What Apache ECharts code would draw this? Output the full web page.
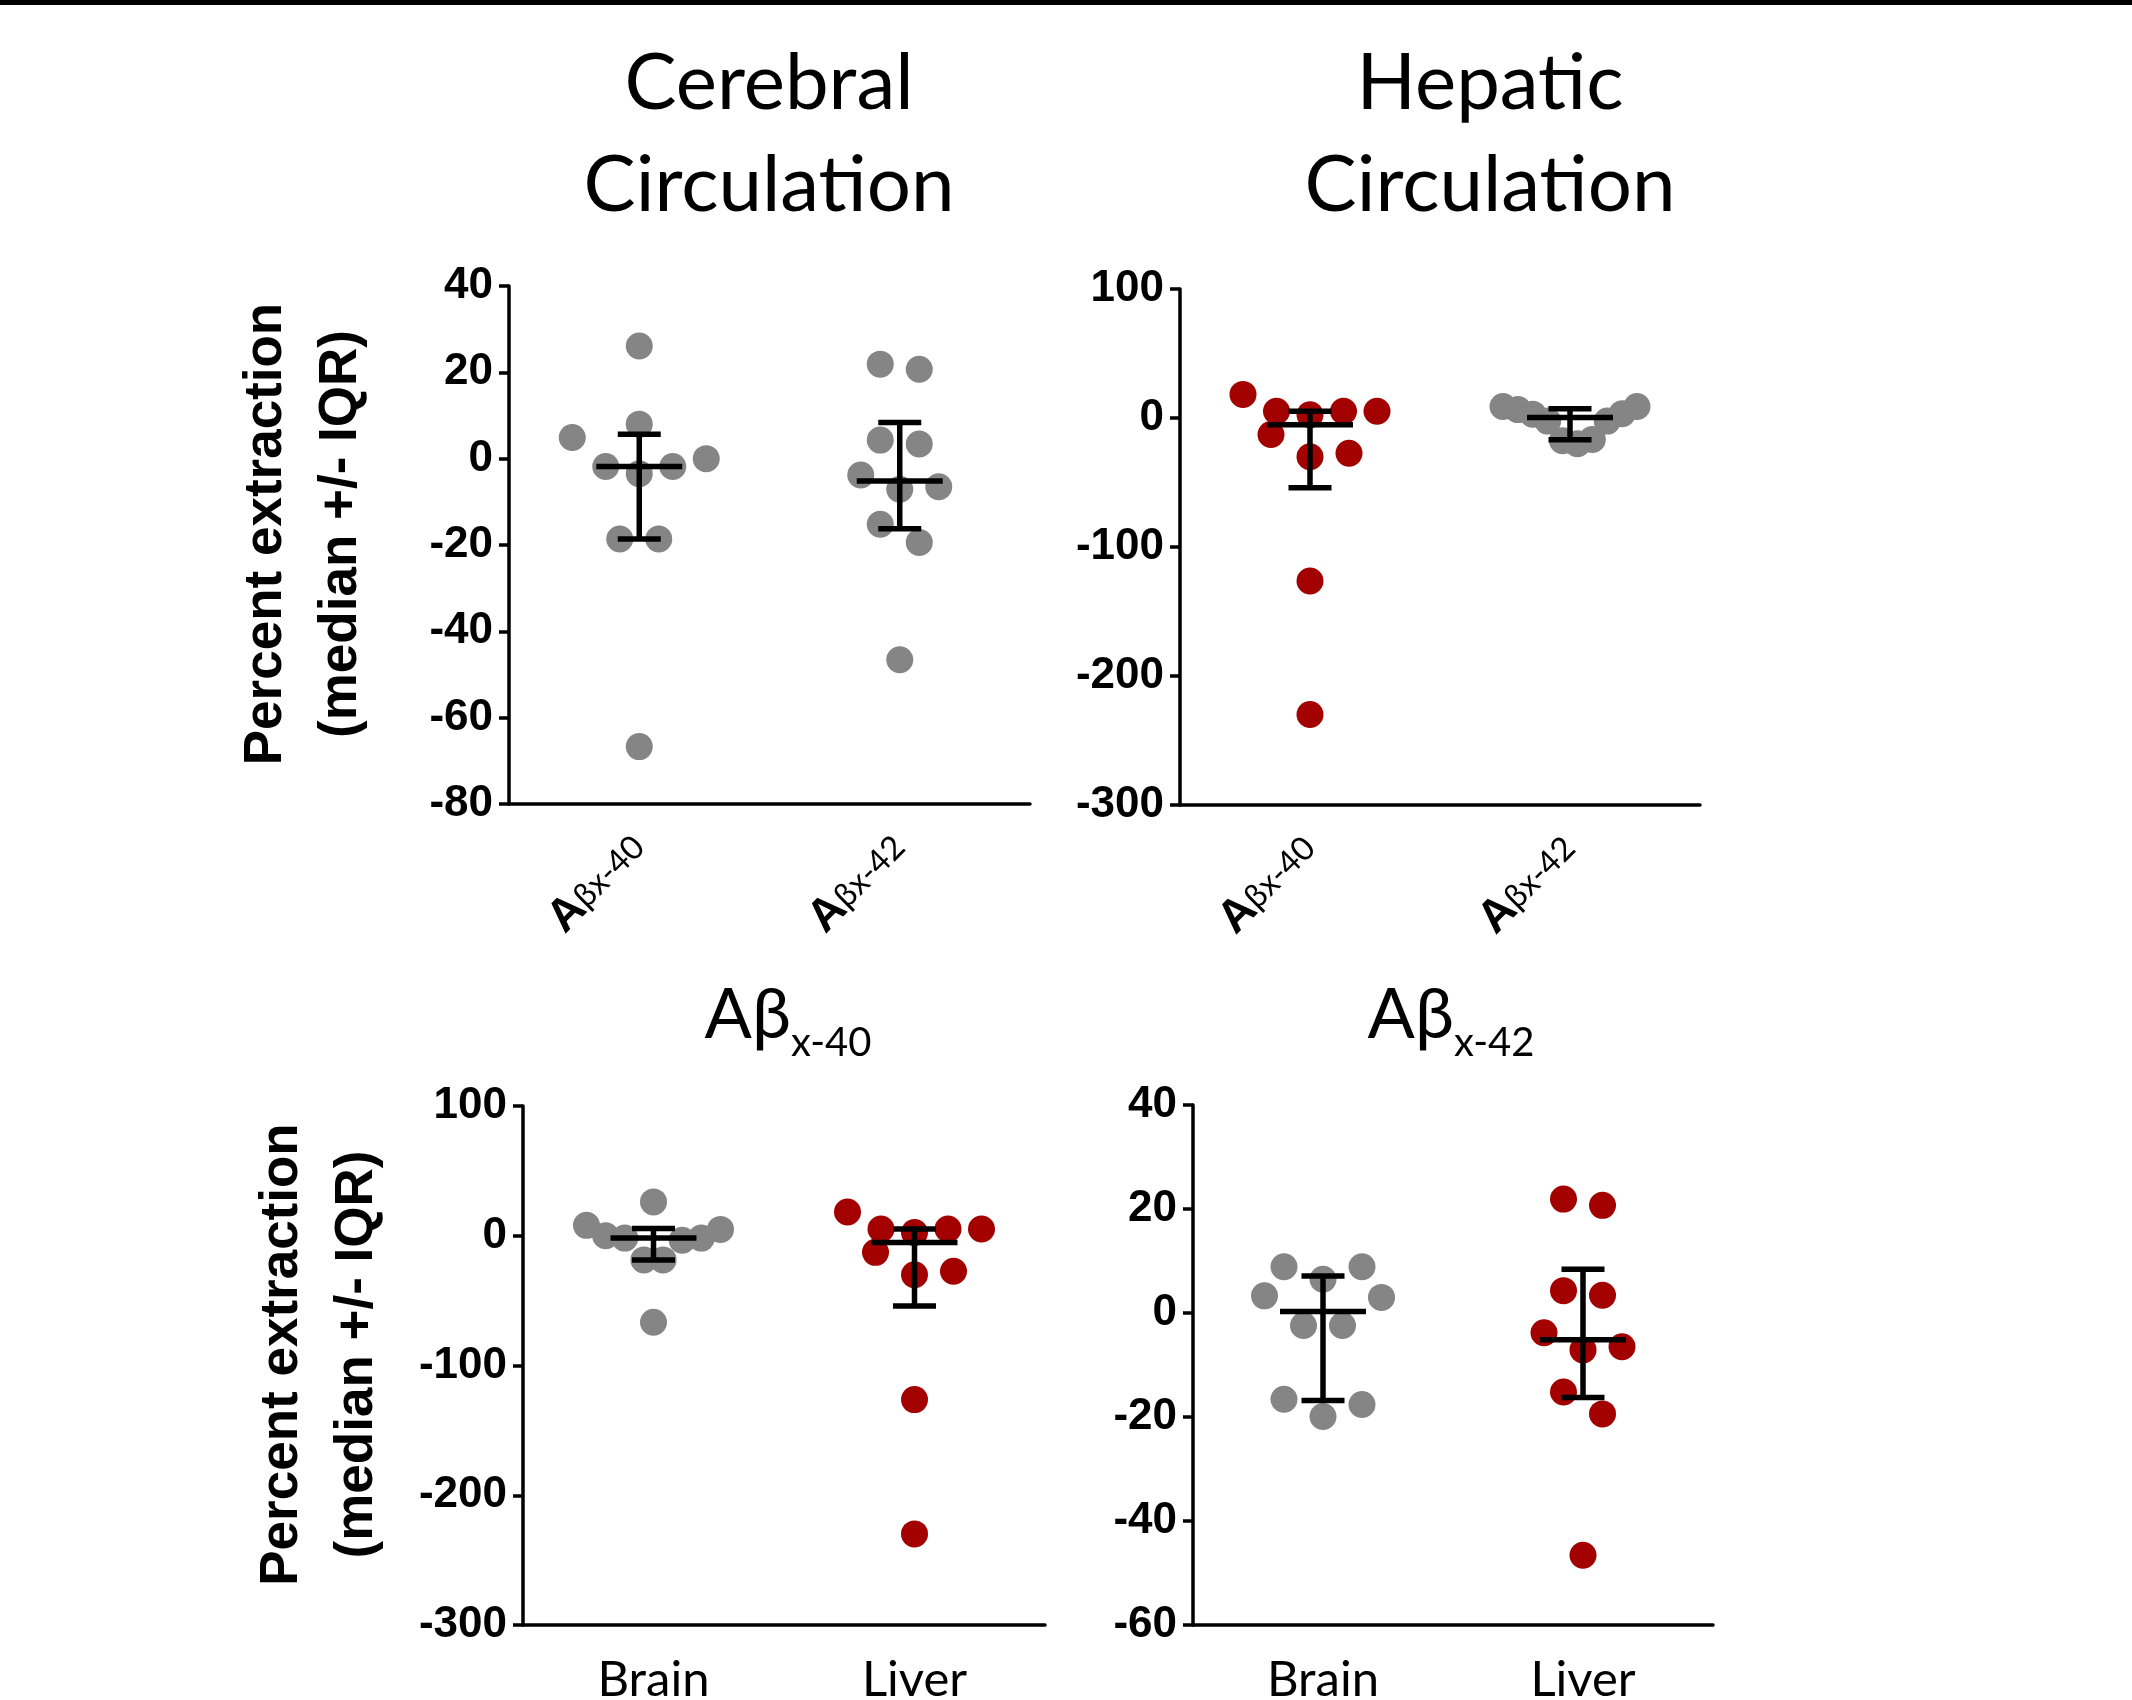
<!DOCTYPE html>
<html>
<head>
<meta charset="utf-8">
<title>Percent extraction</title>
<script src="https://cdn.jsdelivr.net/npm/echarts@6.0.0/dist/echarts.min.js"></script>
<style>
html,body{margin:0;padding:0;background:#fff;}
#main{width:2132px;height:1700px;}
</style>
</head>
<body>
<div id="main"></div>
<script>
// percent extraction per subject
var cerebral40=[26.1,8.0,4.9,0.0,-1.8,-1.8,-3.5,-18.6,-18.6,-66.7];
var cerebral42=[21.9,20.7,4.3,3.4,-3.8,-7.1,-6.5,-15.2,-19.4,-46.6];
var hepatic40=[18.3,5.2,5.2,5.2,2.5,-12.8,-27.3,-30.1,-126.3,-229.8];
var hepatic42=[8.9,8.9,6.5,3.3,3.0,-2.4,-2.4,-16.6,-17.6,-19.9];

var topCats=['Aβx-40','Aβx-42'];
var bottomCats=['Brain','Liver'];

var ticksCerebral=[-80,-60,-40,-20,0,20,40];
var ticksHepatic=[-300,-200,-100,0,100];
var ticks40=[-300,-200,-100,0,100];
var ticks42=[-60,-40,-20,0,20,40];

var GRAY='#858585', RED='#a30000';
var R=13.5, STEP=39, SPREAD=134, ROW_H=39;   //点的半径,横向间距
var CAP=21.5, MED=43;

// Prism style percentile ((n+1)p)
function pct(arr,p){
    var s=arr.slice().sort(function(a,b){return a-b;});
    var pos=(s.length+1)*p;
    var i=Math.floor(pos);
    if(i<1) return s[0];
    if(i>=s.length) return s[s.length-1];
    return s[i-1]+(pos-i)*(s[i]-s[i-1]);
}

// rows of points close in pixel y get spread side by side, centred
function swarm(ys){
    var order=ys.map(function(y,i){return i;});
    order.sort(function(a,b){return ys[b]-ys[a];});
    var off=[];
    var k=0;
    while(k<order.length){
        var row=[order[k]];
        var start=ys[order[k]];
        k++;
        while(k<order.length && start-ys[order[k]]<=ROW_H){
            row.push(order[k]);
            k++;
        }
        var n=row.length;
        var s=Math.min(STEP,SPREAD/Math.max(n-1,1));
        var slots=[];
        if(n%2){
            slots.push(0);
            for(var j=1;slots.length<n;j++){
                slots.push(j);
                if(slots.length<n) slots.push(-j);
            }
        }else{
            for(var j=0.5;slots.length<n;j++){
                slots.push(j);
                slots.push(-j);
            }
        }
        for(var r=0;r<n;r++){
            off[row[r]]=slots[r]*s;
        }
    }
    return off;
}

function dotSeries(gi,vals,cat,color){
    return {
        type:'custom',
        xAxisIndex:gi,
        yAxisIndex:gi,
        z:2,
        data:vals.map(function(v){return [cat,v];}),
        renderItem:function(params,api){
            var ys=vals.map(function(v){return api.coord([cat,v])[1];});
            var off=swarm(ys);
            var p=api.coord([cat,vals[params.dataIndex]]);
            return {
                type:'circle',
                shape:{cx:p[0]+off[params.dataIndex],cy:p[1],r:R},
                style:{fill:color}
            };
        }
    };
}

function ln(x1,y1,x2,y2){
    return {type:'line',shape:{x1:x1,y1:y1,x2:x2,y2:y2},style:{stroke:'#000',lineWidth:5.5}};
}

function barSeries(gi,groups){
    return {
        type:'custom',
        xAxisIndex:gi,
        yAxisIndex:gi,
        z:3,
        encode:{x:0,y:[1,2,3]},
        data:groups.map(function(g,i){
            return [i,pct(g.vals,0.5),pct(g.vals,0.25),pct(g.vals,0.75)];
        }),
        renderItem:function(params,api){
            var c=api.value(0);
            var pm=api.coord([c,api.value(1)]);
            var plo=api.coord([c,api.value(2)]);
            var phi=api.coord([c,api.value(3)]);
            var x=pm[0];
            return {type:'group',children:[
                ln(x,plo[1],x,phi[1]),
                ln(x-CAP,plo[1],x+CAP,plo[1]),
                ln(x-CAP,phi[1],x+CAP,phi[1]),
                ln(x-MED,pm[1],x+MED,pm[1])
            ]};
        }
    };
}

var panels=[
    {grid:{left:509,top:286,width:521,height:518},cats:topCats,ticks:ticksCerebral,named:true,nameGap:130,
        groups:[{vals:cerebral40,color:GRAY},{vals:cerebral42,color:GRAY}]},
    {grid:{left:1180,top:289,width:520,height:516},cats:topCats,ticks:ticksHepatic,named:false,
        groups:[{vals:hepatic40,color:RED},{vals:hepatic42,color:GRAY}]},
    {grid:{left:523,top:1106,width:522,height:519},cats:bottomCats,ticks:ticks40,named:true,nameGap:128,
        groups:[{vals:cerebral40,color:GRAY},{vals:hepatic40,color:RED}]},
    {grid:{left:1193,top:1105,width:520,height:520},cats:bottomCats,ticks:ticks42,named:false,
        groups:[{vals:hepatic42,color:GRAY},{vals:cerebral42,color:RED}]}
];

var axisStyle={color:'#000',width:3.5};
var grids=[],xAxes=[],yAxes=[],series=[];

panels.forEach(function(pn,gi){
    var g=pn.grid;
    g.outerBoundsMode='none';
    grids.push(g);
    var top=pn.cats===topCats;
    xAxes.push({
        type:'category',
        gridIndex:gi,
        data:pn.cats,
        boundaryGap:true,
        axisLine:{onZero:false,lineStyle:axisStyle},
        axisTick:{alignWithLabel:true,length:11,lineStyle:axisStyle},
        axisLabel:top?{
            rotate:45,
            margin:38,
            formatter:function(v){return '{a|A}{b|'+v.slice(1)+'}';},
            rich:{
                a:{fontFamily:'Liberation Sans',fontWeight:'bold',fontSize:46,color:'#000',verticalAlign:'bottom'},
                b:{fontFamily:'Lato, "Open Sans", sans-serif',fontSize:33,color:'#000',verticalAlign:'bottom',padding:[0,0,7,0]}
            }
        }:{
            margin:31,
            fontFamily:'Lato, "Open Sans", sans-serif',
            fontSize:49,
            lineHeight:49,
            color:'#000'
        }
    });
    var y={
        type:'value',
        gridIndex:gi,
        min:pn.ticks[0],
        max:pn.ticks[pn.ticks.length-1],
        interval:pn.ticks[1]-pn.ticks[0],
        axisLine:{show:true,onZero:false,lineStyle:axisStyle},
        axisTick:{show:true,length:10,lineStyle:axisStyle},
        splitLine:{show:false},
        axisLabel:{margin:16,fontFamily:'Liberation Sans',fontWeight:'bold',fontSize:44,color:'#000'}
    };
    if(pn.named){
        y.name='Percent extraction\n(median +/- IQR)';
        y.nameLocation='middle';
        y.nameRotate=90;
        y.nameGap=pn.nameGap;
        y.nameTextStyle={fontFamily:'Liberation Sans',fontWeight:'bold',fontSize:53,lineHeight:75,color:'#000',padding:[0,0,0,22]};
    }
    yAxes.push(y);
    pn.groups.forEach(function(gr,ci){
        series.push(dotSeries(gi,gr.vals,ci,gr.color));
    });
    series.push(barSeries(gi,pn.groups));
});

var titleFont='Lato, "Open Sans", sans-serif';
function head(x,y,text){
    return {type:'text',x:x,y:y,style:{text:text,fill:'#000',fontFamily:titleFont,fontSize:78,lineHeight:102,align:'center',verticalAlign:'top'}};
}
function sub(x,y,text){
    return {type:'text',x:x,y:y,style:{
        text:'{m|Aβ}{s|'+text+'}',
        align:'center',
        verticalAlign:'top',
        rich:{
            m:{fontFamily:titleFont,fontSize:70,lineHeight:70,padding:[0,0,13,0],verticalAlign:'bottom',fill:'#000'},
            s:{fontFamily:titleFont,fontSize:40,lineHeight:40,verticalAlign:'bottom',fill:'#000'}
        }
    }};
}

var myChart=echarts.init(document.getElementById('main'));
myChart.setOption({
    animation:false,
    backgroundColor:'#fff',
    grid:grids,
    xAxis:xAxes,
    yAxis:yAxes,
    series:series,
    graphic:[
        {type:'rect',shape:{x:0,y:0,width:2132,height:5},style:{fill:'#000'}},
        head(769,33,'Cerebral\nCirculation'),
        head(1490,33,'Hepatic\nCirculation'),
        sub(788,993,'x-40'),
        sub(1451,993,'x-42')
    ]
});
</script>
</body>
</html>
